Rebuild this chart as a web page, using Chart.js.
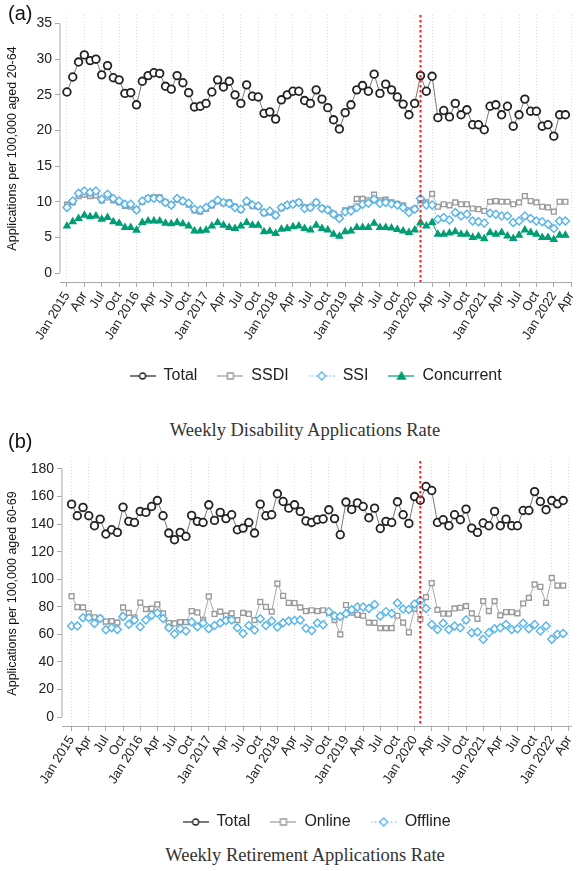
<!DOCTYPE html>
<html>
<head>
<meta charset="utf-8">
<script src="https://cdn.jsdelivr.net/npm/chart.js@4.4.1/dist/chart.umd.min.js"></script>
<style>
  body { margin: 0; background: #fff; width: 577px; height: 871px; position: relative; overflow: hidden;
         font-family: "Liberation Sans", Arial, sans-serif; }
  .panel { position: absolute; left: 0; width: 577px; }
  .tag { position: absolute; left: 8px; font-size: 20px; color: #111; }
  .caption { position: absolute; left: 0; width: 610px; text-align: center;
             font-family: "Liberation Serif", serif; font-size: 18.5px; color: #333; }
</style>
</head>
<body>
<div class="panel" style="top:0"><canvas id="chartA" width="577" height="394"></canvas></div>
<div class="tag" style="top:2px">(a)</div>
<div class="caption" style="top:420px">Weekly Disability Applications Rate</div>

<div class="panel" style="top:440px"><canvas id="chartB" width="577" height="400"></canvas></div>
<div class="tag" style="top:430px">(b)</div>
<div class="caption" style="top:845px">Weekly Retirement Applications Rate</div>

<script>
// monthly, Jan 2015 .. Mar 2022 (87 months)
const tickLabels = ["Jan 2015", "Apr", "Jul", "Oct", "Jan 2016", "Apr", "Jul", "Oct",
  "Jan 2017", "Apr", "Jul", "Oct", "Jan 2018", "Apr", "Jul", "Oct", "Jan 2019", "Apr", "Jul", "Oct",
  "Jan 2020", "Apr", "Jul", "Oct", "Jan 2021", "Apr", "Jul", "Oct", "Jan 2022", "Apr"];
const covidMonth = 61;

// (a) disability applications per 100,000 aged 20-64
const totalA = [25.4, 27.5, 29.6, 30.6, 29.8, 30.0, 27.8, 29.1, 27.4, 27.1, 25.2, 25.3, 23.6, 26.9, 27.7, 28.1,
  28.0, 26.2, 25.8, 27.7, 26.7, 25.3, 23.3, 23.4, 23.8, 25.4, 27.1, 26.1, 26.9, 25.0, 23.8, 26.4,
  24.8, 24.7, 22.4, 22.6, 21.6, 24.3, 25.0, 25.5, 25.5, 24.2, 23.8, 25.7, 24.4, 23.2, 21.5, 20.2,
  22.5, 23.6, 25.7, 26.3, 25.5, 27.9, 25.2, 26.5, 25.7, 24.7, 23.7, 22.2, 23.8, 27.7, 25.5, 27.6,
  21.8, 22.8, 21.9, 23.8, 22.2, 22.9, 20.8, 20.8, 20.1, 23.4, 23.6, 22.2, 23.4, 20.6, 22.2, 24.4,
  22.7, 22.7, 20.6, 20.8, 19.2, 22.2, 22.2];
const ssdiA = [9.6, 9.9, 10.8, 11.0, 10.8, 10.9, 10.2, 10.6, 10.2, 9.9, 9.4, 9.3, 8.9, 10.0, 10.5, 10.6,
  10.6, 9.9, 9.6, 10.3, 10.0, 9.6, 8.8, 8.6, 9.0, 9.5, 10.1, 9.8, 9.9, 9.3, 8.9, 9.9,
  9.4, 9.3, 8.4, 8.5, 8.1, 9.1, 9.5, 9.7, 9.9, 9.2, 9.2, 9.9, 9.1, 8.9, 8.3, 7.8,
  8.8, 9.0, 10.4, 10.4, 10.2, 11.0, 10.2, 10.3, 9.9, 9.7, 9.5, 8.8, 9.0, 10.2, 9.9, 11.1,
  9.3, 9.65, 9.5, 9.9, 9.65, 9.65, 9.05, 8.95, 8.7, 10.0, 10.1, 10.0, 10.0, 9.65, 9.9, 10.8,
  10.1, 9.9, 9.3, 9.2, 8.6, 10.0, 10.0];
const ssiA = [9.2, 10.1, 11.2, 11.5, 11.3, 11.5, 10.35, 11.05, 10.45, 10.1, 9.65, 9.65, 8.85, 10.1, 10.45, 10.5,
  10.45, 9.9, 9.55, 10.45, 10.1, 9.8, 8.95, 8.85, 9.2, 9.65, 10.2, 9.9, 9.75, 9.2, 8.95, 10.1,
  9.55, 9.4, 8.5, 8.7, 8.1, 9.2, 9.55, 9.65, 9.9, 9.05, 9.2, 9.9, 9.05, 8.85, 8.25, 7.65,
  8.6, 8.7, 9.2, 9.65, 9.8, 10.35, 9.8, 9.9, 9.7, 9.55, 9.2, 8.5, 8.95, 10.45, 9.55, 9.55,
  7.55, 7.8, 7.45, 8.5, 8.0, 8.25, 7.3, 7.2, 7.0, 8.4, 8.25, 8.0, 8.0, 7.1, 7.3, 8.0,
  7.65, 7.3, 7.2, 6.85, 6.25, 7.3, 7.3];
const concurrentA = [6.6, 7.2, 7.65, 8.1, 7.9, 8.0, 7.55, 7.8, 7.2, 7.0, 6.4, 6.4, 6.0, 7.1, 7.3, 7.3,
  7.3, 7.0, 6.9, 7.1, 6.9, 6.6, 5.9, 5.9, 6.0, 6.6, 7.1, 6.7, 6.4, 6.25, 6.6, 7.1,
  6.7, 6.7, 5.8, 5.85, 5.55, 6.15, 6.25, 6.5, 6.6, 6.25, 6.05, 6.7, 6.25, 6.05, 5.45, 5.15,
  5.8, 5.9, 6.4, 6.4, 6.4, 7.0, 6.4, 6.4, 6.3, 6.1, 5.9, 5.7, 6.05, 7.1, 6.6, 7.1,
  5.45, 5.45, 5.6, 5.8, 5.45, 5.45, 5.0, 5.15, 4.8, 5.7, 5.45, 5.7, 5.2, 4.85, 5.3, 6.05,
  5.7, 5.45, 5.0, 5.0, 4.7, 5.3, 5.3];

// (b) retirement applications per 100,000 aged 60-69
const totalB = [154.5, 146.1, 152.1, 146.1, 138.8, 143.6, 132.8, 135.9, 134.0, 152.3, 142.0, 141.2, 149.2, 148.5, 152.8, 157.1,
  146.1, 133.5, 128.7, 134.0, 131.1, 146.3, 142.0, 141.2, 154.0, 142.7, 148.5, 144.0, 146.8, 135.9, 137.1, 141.2,
  133.5, 154.5, 146.1, 146.8, 162.0, 156.4, 151.6, 154.0, 149.2, 142.3, 141.2, 143.2, 143.7, 150.4, 144.0, 132.3,
  156.0, 150.6, 155.4, 152.8, 144.6, 151.6, 136.8, 142.0, 141.2, 156.2, 146.8, 140.5, 160.0, 157.3, 167.3, 164.4,
  141.2, 143.2, 138.8, 146.8, 143.2, 150.9, 137.1, 134.0, 140.8, 138.8, 149.2, 138.8, 143.6, 138.8, 138.8, 149.9,
  149.9, 163.6, 156.4, 150.4, 157.1, 154.7, 157.1];
const onlineB = [87.7, 79.8, 79.6, 75.3, 72.4, 71.5, 69.3, 69.6, 68.5, 79.6, 75.6, 72.2, 83.1, 78.3, 78.7, 81.7,
  75.2, 68.2, 67.9, 68.9, 68.9, 76.9, 75.9, 70.5, 87.5, 74.8, 76.5, 73.6, 75.2, 70.3, 75.6, 74.8,
  70.3, 83.5, 79.9, 76.5, 96.8, 88.0, 82.9, 82.7, 79.6, 76.9, 77.5, 76.9, 77.5, 75.8, 70.3, 60.0,
  81.3, 75.7, 74.2, 73.5, 68.5, 68.4, 64.5, 64.5, 64.5, 73.5, 68.5, 61.5, 78.5, 71.0, 87.0, 97.2,
  77.8, 75.0, 75.0, 78.8, 79.3, 80.5, 75.2, 71.3, 84.1, 76.9, 84.1, 73.8, 76.2, 76.2, 75.2, 82.4,
  86.5, 96.2, 94.5, 82.9, 101.0, 95.4, 95.4];
const offlineB = [66.0, 66.0, 72.1, 72.1, 67.9, 71.5, 63.3, 64.8, 63.5, 73.0, 67.3, 70.5, 65.6, 70.4, 73.8, 75.5,
  71.5, 64.8, 60.2, 64.0, 62.4, 69.0, 65.6, 68.3, 64.0, 66.5, 68.2, 70.0, 70.4, 64.8, 60.7, 66.5,
  63.1, 71.3, 66.5, 69.7, 65.4, 68.5, 69.7, 70.0, 70.5, 64.5, 62.8, 68.3, 66.9, 76.5, 73.3, 73.0,
  74.9, 77.9, 79.9, 79.9, 78.7, 81.7, 73.3, 76.5, 75.1, 82.7, 78.4, 78.1, 82.0, 84.5, 78.7, 67.2,
  63.6, 68.0, 63.6, 66.0, 64.8, 70.4, 61.2, 61.7, 56.4, 61.2, 64.1, 64.8, 67.2, 63.6, 64.1, 68.0,
  64.1, 67.2, 62.4, 66.0, 56.4, 60.0, 60.7];

Chart.defaults.font.family = "'Liberation Sans', Arial, sans-serif";
Chart.defaults.color = "#222";

const BLUE = "#56B4E9", GREEN = "#009E73", GREY = "#9a9a9a", DARK = "#222";

const xy = arr => arr.map((v, i) => ({ x: i, y: v }));

// small line+marker images for the legend
function legendIcon(style, color, filled, dash) {
  const c = document.createElement("canvas");
  c.width = 26; c.height = 14;
  const g = c.getContext("2d");
  g.strokeStyle = color; g.lineWidth = 1.2;
  if (dash) g.setLineDash(dash);
  g.beginPath(); g.moveTo(0, 7); g.lineTo(26, 7); g.stroke();
  g.setLineDash([]);
  g.fillStyle = filled ? color : "#fff";
  g.lineWidth = 1.3;
  g.beginPath();
  if (style === "circle") g.arc(13, 7, 3, 0, Math.PI * 2);
  if (style === "rect") g.rect(10, 4, 6, 6);
  if (style === "rectRot") { g.moveTo(13, 3); g.lineTo(17, 7); g.lineTo(13, 11); g.lineTo(9, 7); g.closePath(); }
  if (style === "triangle") { g.moveTo(13, 3); g.lineTo(17, 10); g.lineTo(9, 10); g.closePath(); }
  g.fill(); g.stroke();
  return c;
}

const decor = {
  id: "decor",
  beforeDatasetsDraw(chart, args, o) {
    const y = chart.scales.y, ctx = chart.ctx, x0 = chart.chartArea.left;
    ctx.save();
    ctx.strokeStyle = "#aaa"; ctx.lineWidth = 1;
    ctx.beginPath();
    ctx.moveTo(x0, y.getPixelForValue(o.yMin));
    ctx.lineTo(x0, y.getPixelForValue(o.yMax));
    ctx.stroke();
    ctx.restore();
  },
  afterDatasetsDraw(chart, args, o) {
    const a = chart.chartArea, ctx = chart.ctx;
    const x = chart.scales.x.getPixelForValue(o.at);
    ctx.save();
    ctx.strokeStyle = "#ff1a1a"; ctx.lineWidth = 2; ctx.setLineDash([2.5, 2.5]);
    ctx.beginPath(); ctx.moveTo(x, a.top); ctx.lineTo(x, a.bottom); ctx.stroke();
    ctx.restore();
  }
};

function makeChart(id, cfg) {
  const icons = cfg.series.map(s => legendIcon(s.style, s.color, s.filled, s.dash));
  return new Chart(document.getElementById(id), {
    type: "line",
    data: {
      datasets: cfg.series.map((s, i) => ({
        label: s.label,
        data: xy(s.values),
        order: s.order,
        borderColor: s.line,
        borderWidth: 1,
        borderDash: s.dash || [],
        pointStyle: s.style,
        pointRadius: s.radius,
        pointBorderColor: s.color,
        pointBorderWidth: s.bw || 1.4,
        pointBackgroundColor: s.filled ? s.color : "#fff",
        tension: 0
      }))
    },
    options: {
      responsive: false,
      animation: false,
      layout: { padding: { top: cfg.padTop, left: 0, right: 0, bottom: 0 } },
      plugins: {
        tooltip: { enabled: false },
        decor: { at: covidMonth, yMin: 0, yMax: cfg.yTicks[cfg.yTicks.length - 1] },
        legend: {
          position: "bottom",
          fullSize: false,
          labels: {
            usePointStyle: true,
            pointStyleWidth: 26,
            padding: 20,
            font: { size: 16 },
            color: "#222",
            sort: (a, b) => a.datasetIndex - b.datasetIndex,
            generateLabels(chart) {
              return Chart.defaults.plugins.legend.labels.generateLabels(chart)
                .map(l => ({ ...l, pointStyle: icons[l.datasetIndex] }));
            }
          }
        }
      },
      scales: {
        x: {
          type: "linear",
          min: cfg.xMin, max: cfg.xMax,
          afterBuildTicks: s => { s.ticks = tickLabels.map((_, i) => ({ value: i * 3 })); },
          afterFit: s => { s.height = cfg.xHeight; s.paddingLeft = 0; s.paddingRight = 0; },
          ticks: {
            autoSkip: false, minRotation: 58, maxRotation: 58, padding: 2,
            font: { size: 13 }, color: "#222",
            callback: (v, i) => tickLabels[i]
          },
          grid: { color: "#dcdcdc", lineWidth: 1, drawTicks: true, tickLength: 5, tickColor: "#aaa", tickBorderDash: [] },
          border: { display: true, color: "#aaa", width: 1, dash: [1, 2] }
        },
        y: {
          min: cfg.yMin, max: cfg.yMax,
          afterBuildTicks: s => { s.ticks = cfg.yTicks.map(v => ({ value: v })); },
          afterFit: s => { s.width = cfg.yWidth; s.paddingTop = 0; s.paddingBottom = 0; },
          ticks: { font: { size: 14 }, color: "#222", padding: 3 },
          grid: { drawOnChartArea: false, drawTicks: true, tickLength: 5, tickColor: "#aaa" },
          border: { display: false },
          title: { display: true, text: cfg.yTitle, font: { size: 12.5 }, color: "#111", padding: { top: 5, bottom: 0 } }
        }
      }
    },
    plugins: [decor]
  });
}

makeChart("chartA", {
  padTop: 15, xMin: -1.2, xMax: 87.0, yMin: -1.26, yMax: 36.2, xHeight: 66, yWidth: 60,
  yTicks: [0, 5, 10, 15, 20, 25, 30, 35],
  yTitle: "Applications per 100,000 aged 20-64",
  series: [
    { label: "Total", values: totalA, style: "circle", radius: 3.8, bw: 1.8, color: DARK, line: "#777", filled: false, order: 0 },
    { label: "SSDI", values: ssdiA, style: "rect", radius: 3.4, color: GREY, line: "#b0b0b0", filled: false, order: 3 },
    { label: "SSI", values: ssiA, style: "rectRot", radius: 4, color: BLUE, line: BLUE, filled: false, dash: [1.5, 2], order: 2 },
    { label: "Concurrent", values: concurrentA, style: "triangle", radius: 3.6, color: GREEN, line: GREEN, filled: true, order: 1 }
  ]
});

makeChart("chartB", {
  padTop: 21, xMin: -1.68, xMax: 87.4, yMin: -6.5, yMax: 185.8, xHeight: 68, yWidth: 62,
  yTicks: [0, 20, 40, 60, 80, 100, 120, 140, 160, 180],
  yTitle: "Applications per 100,000 aged 60-69",
  series: [
    { label: "Total", values: totalB, style: "circle", radius: 3.8, bw: 1.8, color: DARK, line: "#777", filled: false, order: 0 },
    { label: "Online", values: onlineB, style: "rect", radius: 3.4, color: GREY, line: "#a8a8a8", filled: false, order: 2 },
    { label: "Offline", values: offlineB, style: "rectRot", radius: 4, color: BLUE, line: BLUE, filled: false, dash: [1.5, 2.5], order: 1 }
  ]
});
</script>
</body>
</html>
